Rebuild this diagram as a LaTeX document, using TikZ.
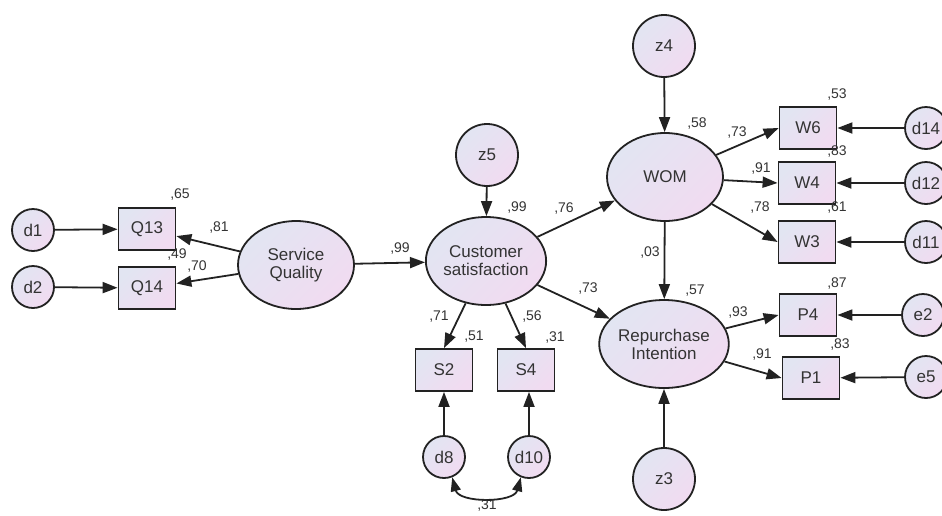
\documentclass[tikz,border=0pt]{standalone}
\usepackage{fontspec}
\setmainfont{Liberation Sans}
\usetikzlibrary{shapes.geometric,arrows.meta}
\definecolor{fa}{HTML}{E2E5F2}
\definecolor{fb}{HTML}{F1DBF1}
\definecolor{ink}{HTML}{222222}
\definecolor{txt}{HTML}{333333}
\tikzset{
  filled/.style={draw=ink, line width=1.8pt, top color=fa, bottom color=fb, shading angle=45,
    text=txt, font=\fontsize{17}{18}\selectfont, inner sep=0pt, align=center},
  latent/.style={filled, ellipse, minimum width=116pt, minimum height=88pt},
  err/.style={filled, circle, minimum size=42pt},
  dist/.style={filled, circle, minimum size=62pt},
  obs/.style={filled, rectangle, minimum width=57pt, minimum height=42pt},
  lbl/.style={text=txt, font=\fontsize{14}{15}\selectfont, inner sep=0pt},
  arr/.style={draw=ink, line width=1.8pt, -{Triangle[length=15pt,width=11pt]}},
  cov/.style={draw=ink, line width=1.8pt, {Triangle[length=14pt,width=10pt]}-{Triangle[length=14pt,width=10pt]}}
}
\begin{document}
\begin{tikzpicture}[x=1pt,y=-1pt]
\useasboundingbox (0,0) rectangle (942,515);
% nodes
\node[err] (d1) at (33,230) {d1};
\node[err] (d2) at (33,287) {d2};
\node[obs] (Q13) at (147,229) {Q13};
\node[obs] (Q14) at (147,288) {Q14};
\node[latent] (SQ) at (296,265) {Service\\Quality};
\node[dist] (z5) at (487,155) {z5};
\node[latent] (CS) at (486,261) {Customer\\satisfaction};
\node[obs] (S2) at (444,370) {S2};
\node[obs] (S4) at (526,370) {S4};
\node[err] (d8) at (444,457) {d8};
\node[err] (d10) at (529,457) {d10};
\node[dist] (z4) at (664,46) {z4};
\node[latent] (WOM) at (665,177) {WOM};
\node[obs] (W6) at (808,128) {W6};
\node[obs] (W4) at (807,183) {W4};
\node[obs] (W3) at (807,242) {W3};
\node[err] (d14) at (926,128) {d14};
\node[err] (d12) at (926,183) {d12};
\node[err] (d11) at (926,242) {d11};
\node[latent] (RI) at (664,344) {Repurchase\\Intention};
\node[dist] (z3) at (664,479) {z3};
\node[obs] (P4) at (808,315) {P4};
\node[obs] (P1) at (811,378) {P1};
\node[err] (e2) at (923,315) {e2};
\node[err] (e5) at (926,377) {e5};
% connectors
\draw[arr] (d1) -- (Q13);
\draw[arr] (d2) -- (Q14);
\draw[arr] (SQ) -- (Q13);
\draw[arr] (SQ) -- (Q14);
\draw[arr] (SQ) -- (CS);
\draw[arr] (z5) -- (CS);
\draw[arr] (CS) -- (S2.north);
\draw[arr] (CS) -- (S4.north);
\draw[arr] (d8) -- (S2);
\draw[arr] (d10) -- (S4.south -| d10);
\draw[cov] (d8.-68) to[out=-75,in=-105] (d10.-112);
\draw[arr] (CS) -- (WOM);
\draw[arr] (CS) -- (RI);
\draw[arr] (z4) -- (WOM);
\draw[arr] (WOM) -- (RI);
\draw[arr] (z3) -- (RI);
\draw[arr] (WOM) -- (W6.west);
\draw[arr] (WOM) -- (W4.west);
\draw[arr] (WOM) -- (W3.west);
\draw[arr] (d14) -- (W6);
\draw[arr] (d12) -- (W4);
\draw[arr] (d11) -- (W3);
\draw[arr] (RI) -- (P4.west);
\draw[arr] (RI) -- (P1.west);
\draw[arr] (e2) -- (P4);
\draw[arr] (e5) -- (P1);
% labels
\node[lbl] (l1) at (180,195) {,65};
\node[lbl] (l2) at (177,254) {,49};
\node[lbl] (l3) at (219,228) {,81};
\node[lbl] (l4) at (197,267) {,70};
\node[lbl] (l5) at (400,249) {,99};
\node[lbl] (l6) at (517,208) {,99};
\node[lbl] (l7) at (564,209) {,76};
\node[lbl] (l8) at (588,289) {,73};
\node[lbl] (l9) at (439,317) {,71};
\node[lbl] (l10) at (532,316) {,56};
\node[lbl] (l11) at (474,337) {,51};
\node[lbl] (l12) at (555,337) {,31};
\node[lbl] (l13) at (487,505) {,31};
\node[lbl] (l14) at (697,124) {,58};
\node[lbl] (l15) at (737,133) {,73};
\node[lbl] (l16) at (761,169) {,91};
\node[lbl] (l17) at (760,208) {,78};
\node[lbl] (l18) at (837,95) {,53};
\node[lbl] (l19) at (837,152) {,83};
\node[lbl] (l20) at (837,208) {,61};
\node[lbl] (l21) at (650,253) {,03};
\node[lbl] (l22) at (695,291) {,57};
\node[lbl] (l23) at (738,312) {,93};
\node[lbl] (l24) at (762,354) {,91};
\node[lbl] (l25) at (837,283) {,87};
\node[lbl] (l26) at (840,344) {,83};
\end{tikzpicture}
\end{document}
